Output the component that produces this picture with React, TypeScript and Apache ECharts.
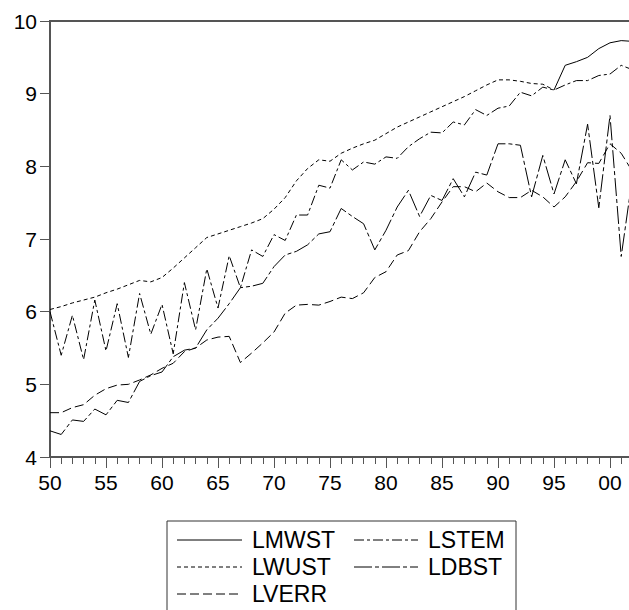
import React, { useEffect, useRef } from "react";
import * as echarts from "echarts";

const years = [
  1950, 1951, 1952, 1953, 1954, 1955, 1956, 1957, 1958, 1959,
  1960, 1961, 1962, 1963, 1964, 1965, 1966, 1967, 1968, 1969,
  1970, 1971, 1972, 1973, 1974, 1975, 1976, 1977, 1978, 1979,
  1980, 1981, 1982, 1983, 1984, 1985, 1986, 1987, 1988, 1989,
  1990, 1991, 1992, 1993, 1994, 1995, 1996, 1997, 1998, 1999,
  2000, 2001, 2002,
];

// LMWST: 1995-2002
const lmwstYears = [1995, 1996, 1997, 1998, 1999, 2000, 2001, 2002];
const lmwst = [9.05, 9.39, 9.44, 9.5, 9.62, 9.7, 9.73, 9.72];

// LWUST: 1950-1995
const lwust = [
  6.03, 6.07, 6.12, 6.16, 6.2, 6.26, 6.31, 6.37, 6.43, 6.41,
  6.47, 6.6, 6.74, 6.88, 7.02, 7.07, 7.12, 7.17, 7.22, 7.28,
  7.41, 7.57, 7.8, 7.97, 8.09, 8.07, 8.18, 8.25, 8.31, 8.36,
  8.45, 8.54, 8.61, 8.68, 8.75, 8.82, 8.89, 8.96, 9.04, 9.12,
  9.19, 9.19, 9.17, 9.14, 9.13, 9.05,
];

// LVERR: 1950-2002
const lverr = [
  4.61, 4.61, 4.68, 4.72, 4.85, 4.94, 4.99, 5.0, 5.06, 5.13,
  5.22, 5.29, 5.45, 5.5, 5.61, 5.65, 5.66, 5.3, 5.43, 5.57,
  5.72, 5.98, 6.09, 6.1, 6.09, 6.14, 6.2, 6.18, 6.26, 6.47,
  6.55, 6.78, 6.84, 7.1, 7.28, 7.51, 7.72, 7.72, 7.65, 7.77,
  7.65, 7.57, 7.57, 7.67, 7.58, 7.44, 7.58, 7.79, 8.05, 8.04,
  8.31, 8.18, 7.93,
];

// LSTEM: 1950-2002
const lstem = [
  6.0, 5.4, 5.95, 5.34, 6.16, 5.46, 6.11, 5.37, 6.25, 5.69,
  6.1, 5.42, 6.4, 5.75, 6.59, 6.05, 6.77, 6.33, 6.85, 6.76,
  7.06, 6.98, 7.33, 7.33, 7.74, 7.7, 8.09, 7.95, 8.06, 8.03,
  8.13, 8.11, 8.27, 8.38, 8.47, 8.46, 8.61, 8.57, 8.78, 8.7,
  8.8, 8.83, 9.02, 8.97, 9.09, 9.05, 9.12, 9.18, 9.18, 9.25,
  9.27, 9.39, 9.33,
];

// LDBST: 1950-2002
const ldbst = [
  4.36, 4.31, 4.51, 4.49, 4.66, 4.58, 4.78, 4.75, 5.04, 5.12,
  5.17, 5.38, 5.47, 5.5, 5.75, 5.91, 6.11, 6.33, 6.35, 6.39,
  6.62, 6.78, 6.83, 6.92, 7.07, 7.1, 7.42, 7.31, 7.21, 6.85,
  7.12, 7.44, 7.67, 7.31, 7.6, 7.53, 7.83, 7.58, 7.92, 7.88,
  8.31, 8.31, 8.29, 7.58, 8.15, 7.62, 8.09, 7.76, 8.58, 7.43,
  8.7, 6.76, 7.85,
];

const seriesNames = ["LMWST", "LWUST", "LVERR", "LSTEM", "LDBST"];

export default function App() {
  const ref = useRef<HTMLDivElement>(null);

  useEffect(() => {
    if (!ref.current) return;
    const chart = echarts.init(ref.current, null, { renderer: "svg" });
    const font = "'Liberation Sans', Arial, Helvetica, sans-serif";
    const axisColor = "#555555";

    const pair = (xs: number[], vs: number[]) => vs.map((v, i) => [xs[i], v]);

    const dashes: Record<string, number[] | null> = {
      LMWST: null,
      LWUST: [4, 3],
      LVERR: [9, 4],
      LSTEM: [10, 3, 3, 3],
      LDBST: [18, 3, 4, 3],
    };

    const mk = (name: string, data: number[][]) => ({
      name,
      type: "line",
      data,
      symbol: "none",
      showSymbol: false,
      lineStyle: {
        color: "#000",
        width: 1,
        type: dashes[name] ? dashes[name] : "solid",
      },
      silent: true,
    });

    const legendPos = [
      { col: 0, row: 0 },
      { col: 0, row: 1 },
      { col: 0, row: 2 },
      { col: 1, row: 0 },
      { col: 1, row: 1 },
    ];
    const colLineX = [
      [177, 242],
      [354, 418],
    ];
    const colTextX = [252, 428];
    const rowY = [540, 567, 594];

    const graphics: any[] = [
      {
        type: "rect",
        shape: { x: 167, y: 521, width: 349, height: 120 },
        style: { fill: "#fff", stroke: "#333", lineWidth: 1 },
        silent: true,
      },
    ];
    seriesNames.forEach((name, i) => {
      const p = legendPos[i];
      const d = dashes[name];
      graphics.push({
        type: "line",
        shape: {
          x1: colLineX[p.col][0],
          y1: rowY[p.row],
          x2: colLineX[p.col][1],
          y2: rowY[p.row],
        },
        style: {
          stroke: "#000",
          lineWidth: 1,
          lineDash: d ? d : null,
        },
        silent: true,
      });
      graphics.push({
        type: "text",
        x: colTextX[p.col],
        y: rowY[p.row],
        style: {
          text: name,
          fill: "#000",
          font: `23px ${font}`,
          verticalAlign: "middle",
          align: "left",
        },
        silent: true,
      });
    });

    chart.setOption({
      animation: false,
      grid: {
        left: 50,
        right: -37,
        top: 21,
        bottom: 153,
        show: true,
        borderColor: axisColor,
        borderWidth: 2,
        backgroundColor: "transparent",
        containLabel: false,
        outerBoundsMode: "none",
      },
      xAxis: {
        type: "value",
        min: 1950,
        max: 2005,
        interval: 5,
        axisLine: { show: true, onZero: false, lineStyle: { color: axisColor, width: 2 } },
        axisTick: { show: true, inside: false, length: 11, lineStyle: { color: axisColor, width: 1 } },
        minorTick: { show: true, splitNumber: 5, length: 7, lineStyle: { color: axisColor, width: 1 } },
        axisLabel: {
          show: true,
          showMaxLabel: false,
          margin: 15,
          fontSize: 21,
          fontFamily: font,
          color: "#000",
          formatter: (v: number) => (v > 2000 ? "" : String(v % 100).padStart(2, "0")),
        },
        splitLine: { show: false },
        minorSplitLine: { show: false },
      },
      yAxis: {
        type: "value",
        min: 4,
        max: 10,
        interval: 1,
        axisLine: { show: true, onZero: false, lineStyle: { color: axisColor, width: 2 } },
        axisTick: { show: true, inside: false, length: 10, lineStyle: { color: axisColor, width: 1 } },
        axisLabel: {
          show: true,
          margin: 13,
          fontSize: 21,
          fontFamily: font,
          color: "#000",
        },
        splitLine: { show: false },
      },
      series: [
        mk("LMWST", pair(lmwstYears, lmwst)),
        mk("LWUST", pair(years, lwust)),
        mk("LVERR", pair(years, lverr)),
        mk("LSTEM", pair(years, lstem)),
        mk("LDBST", pair(years, ldbst)),
      ],
      graphic: graphics,
    });

    return () => chart.dispose();
  }, []);

  return (
    <div
      ref={ref}
      style={{ position: "absolute", left: 0, top: 0, width: 629, height: 610, background: "#fff" }}
    />
  );
}
